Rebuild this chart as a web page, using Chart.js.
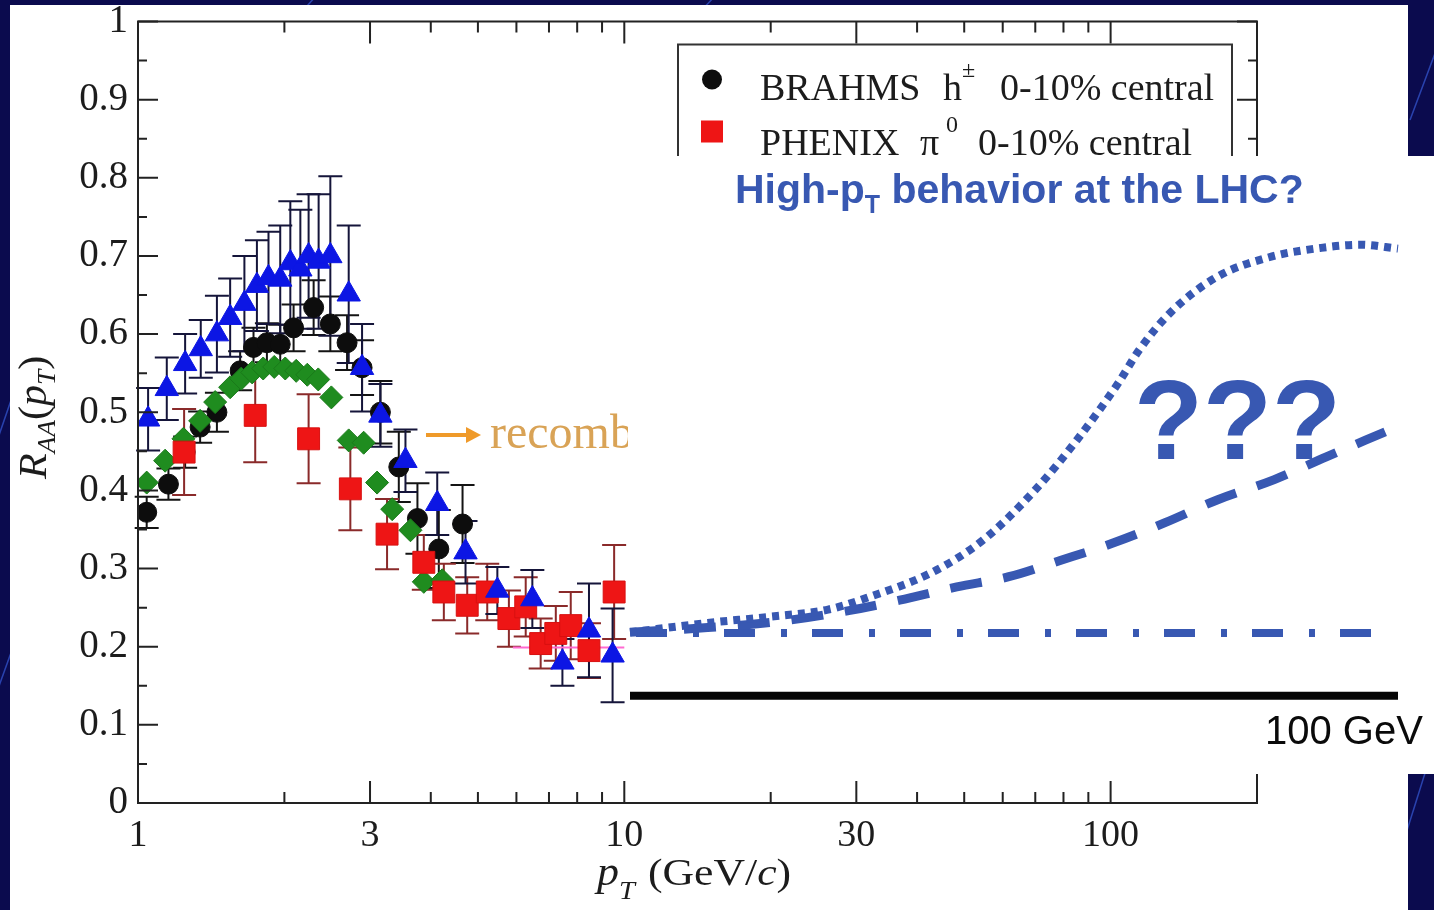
<!DOCTYPE html>
<html lang="en">
<head>
<meta charset="utf-8">
<title>R_AA(pT)</title>
<script src="https://cdn.jsdelivr.net/npm/chart.js@4.4.1/dist/chart.umd.min.js"></script>
<style>
  html, body { margin: 0; padding: 0; }
  body { position: relative; width: 1434px; height: 910px; overflow: hidden; background: #0b0b4e; }
  #deco { position: absolute; left: 0; top: 0; }
  #plotBox { position: absolute; left: 10px; top: 5px; width: 1398px; height: 905px; background: #fff; }
  #lhcBox { position: absolute; left: 628px; top: 156px; width: 806px; height: 618px; background: #fff; }
  canvas { display: block; }
</style>
</head>
<body>
<svg id="deco" width="1434" height="910">
  <g stroke="#2f4cc0" stroke-width="1.5" fill="none" opacity="0.85">
    <line x1="-4" y1="444" x2="40" y2="316"/>
    <line x1="-6" y1="700" x2="30" y2="600"/>
    <line x1="300" y1="14" x2="330" y2="-20"/>
    <line x1="700" y1="12" x2="730" y2="-20"/>
    <line x1="1404" y1="840" x2="1426" y2="770"/>
    <line x1="1410" y1="120" x2="1440" y2="40"/>
  </g>
</svg>
<div id="plotBox"><canvas id="raa" width="1398" height="905"></canvas></div>
<div id="lhcBox"><canvas id="lhc" width="806" height="618"></canvas></div>
<script>
// axis ticks
const xTicks = [1, 3, 10, 30, 100];
const xMinorTicks = [2, 4, 5, 6, 7, 8, 9, 20, 40, 50, 60, 70, 80, 90];
const yTicks = [0, 0.1, 0.2, 0.3, 0.4, 0.5, 0.6, 0.7, 0.8, 0.9, 1];
const yTickLabels = ['0', '0.1', '0.2', '0.3', '0.4', '0.5', '0.6', '0.7', '0.8', '0.9', '1'];
const yMinorTicks = [0.05, 0.15, 0.25, 0.35, 0.45, 0.55, 0.65, 0.75, 0.85, 0.95];

// BRAHMS h+- 0-10% central
const brahmsX = [1.042, 1.155, 1.250, 1.342, 1.453, 1.622, 1.728, 1.841, 1.961, 2.089, 2.297, 2.486, 2.691, 2.889, 3.151, 3.438, 3.755, 4.155, 4.649];
const brahmsY = [0.372, 0.408, 0.449, 0.481, 0.500, 0.553, 0.583, 0.589, 0.587, 0.608, 0.634, 0.613, 0.589, 0.557, 0.500, 0.430, 0.364, 0.325, 0.357];
const brahmsErr = [0.02, 0.02, 0.02, 0.02, 0.025, 0.025, 0.025, 0.025, 0.025, 0.03, 0.035, 0.035, 0.035, 0.035, 0.04, 0.045, 0.045, 0.05, 0.05];

// PHENIX pi0 0-10% central
const phenixX = [1.244, 1.742, 2.243, 2.733, 3.252, 3.870, 4.255, 4.753, 5.226, 5.79, 6.27, 6.73, 7.23, 7.76, 8.46, 9.53];
const phenixY = [0.449, 0.496, 0.466, 0.402, 0.344, 0.308, 0.270, 0.253, 0.270, 0.236, 0.251, 0.204, 0.217, 0.227, 0.195, 0.270];
const phenixErr = [0.055, 0.06, 0.057, 0.053, 0.045, 0.035, 0.036, 0.036, 0.036, 0.036, 0.038, 0.032, 0.035, 0.043, 0.035, 0.06];

// diamond series
const diamondX = [1.042, 1.137, 1.240, 1.342, 1.441, 1.547, 1.630, 1.717, 1.809, 1.906, 2.008, 2.115, 2.229, 2.348, 2.498, 2.712, 2.911, 3.102, 3.332, 3.633, 3.870, 4.223];
const diamondY = [0.410, 0.438, 0.466, 0.489, 0.513, 0.532, 0.543, 0.551, 0.556, 0.558, 0.556, 0.553, 0.548, 0.542, 0.519, 0.464, 0.461, 0.410, 0.376, 0.349, 0.283, 0.285];

// triangle series
const triangleX = [1.049, 1.146, 1.250, 1.346, 1.453, 1.547, 1.655, 1.756, 1.855, 1.961, 2.057, 2.157, 2.243, 2.352, 2.486, 2.712, 2.889, 3.151, 3.548, 4.124, 4.715, 5.482, 6.47, 7.46, 8.46, 9.46];
const triangleY = [0.491, 0.530, 0.562, 0.581, 0.600, 0.621, 0.639, 0.662, 0.672, 0.670, 0.691, 0.683, 0.700, 0.693, 0.700, 0.651, 0.557, 0.496, 0.438, 0.383, 0.321, 0.272, 0.261, 0.180, 0.221, 0.189];
const triangleErr = [0.04, 0.04, 0.038, 0.037, 0.049, 0.05, 0.061, 0.058, 0.059, 0.069, 0.079, 0.076, 0.079, 0.086, 0.102, 0.088, 0.056, 0.04, 0.04, 0.04, 0.04, 0.03, 0.037, 0.03, 0.06, 0.06];

// short magenta band near 0.2
const bandX = [5.9, 10];
const bandY = [0.199, 0.199];

// LHC scenarios (pT in GeV)
const dottedX = [10, 19.1, 26.5, 33.2, 38.0, 45.3, 51.4, 57.5, 62.4, 67.2, 69.7, 73.3, 78.8, 84.9, 91.0, 95.6, 100];
const dottedY = [0.218, 0.230, 0.238, 0.247, 0.263, 0.294, 0.336, 0.400, 0.464, 0.536, 0.579, 0.626, 0.672, 0.697, 0.709, 0.713, 0.708];
const dashedX = [10, 19.1, 27.6, 35.8, 41.6, 48.3, 54.4, 60.5, 66.6, 72.7, 78.8, 85.5, 91.6, 98.5];
const dashedY = [0.218, 0.224, 0.232, 0.246, 0.259, 0.276, 0.289, 0.310, 0.332, 0.358, 0.387, 0.413, 0.442, 0.474];
const flatX = [10, 97.9];
const flatY = [0.217, 0.217];
const baseX = [10, 100];
const baseY = [0.137, 0.137];

const serif = '"Liberation Serif", "Times New Roman", serif';
const sans = '"Liberation Sans", Arial, sans-serif';
const ink = '#1c1c1c';
const lhcBlue = '#3858b2';

const points = (xs, ys) => xs.map((x, i) => ({ x: x, y: ys[i] }));

// draw a row of text pieces, each [text, font, dy]; sx stretches horizontally
function drawRuns(ctx, x, y, runs, sx) {
  sx = sx || 1;
  ctx.save();
  ctx.translate(x, y);
  ctx.scale(sx, 1);
  let cx = 0;
  for (const [text, font, dy] of runs) {
    ctx.font = font;
    ctx.fillText(text, cx, dy || 0);
    cx += ctx.measureText(text).width;
  }
  ctx.restore();
}

const errorBars = {
  id: 'errorBars',
  beforeDatasetsDraw(chart) {
    const { ctx, scales: { x, y } } = chart;
    ctx.save();
    ctx.lineWidth = 2;
    chart.data.datasets.forEach(ds => {
      if (!ds.errors) return;
      ctx.strokeStyle = ds.errorColor;
      ds.data.forEach((p, i) => {
        const e = ds.errors[i];
        const px = x.getPixelForValue(p.x);
        const top = y.getPixelForValue(p.y + e);
        const bot = y.getPixelForValue(p.y - e);
        ctx.beginPath();
        ctx.moveTo(px, top); ctx.lineTo(px, bot);
        ctx.moveTo(px - 12, top); ctx.lineTo(px + 12, top);
        ctx.moveTo(px - 12, bot); ctx.lineTo(px + 12, bot);
        ctx.stroke();
      });
    });
    ctx.restore();
  }
};

// box, inward ticks on all four sides, legend, axis titles, note
const decorations = {
  id: 'decorations',
  afterDatasetsDraw(chart) {
    const { ctx, chartArea: a, scales: { x, y } } = chart;
    ctx.save();
    ctx.strokeStyle = '#222';
    ctx.lineWidth = 2;
    ctx.strokeRect(a.left, a.top, a.right - a.left, a.bottom - a.top);
    ctx.beginPath();
    const xMark = (v, len) => {
      const px = x.getPixelForValue(v);
      ctx.moveTo(px, a.bottom); ctx.lineTo(px, a.bottom - len);
      ctx.moveTo(px, a.top); ctx.lineTo(px, a.top + len);
    };
    const yMark = (v, len) => {
      const py = y.getPixelForValue(v);
      ctx.moveTo(a.left, py); ctx.lineTo(a.left + len, py);
      ctx.moveTo(a.right, py); ctx.lineTo(a.right - len, py);
    };
    xTicks.forEach(v => xMark(v, 22));
    xMinorTicks.forEach(v => xMark(v, 11));
    yTicks.forEach(v => yMark(v, 20));
    yMinorTicks.forEach(v => yMark(v, 9));
    ctx.stroke();

    // legend
    const lx = a.left + 540, ly = a.top + 23;
    ctx.fillStyle = '#fff';
    ctx.fillRect(lx, ly, 554, 200);
    ctx.strokeStyle = '#333';
    ctx.strokeRect(lx, ly, 554, 200);
    ctx.fillStyle = '#0d0d0d';
    ctx.beginPath();
    ctx.arc(lx + 34, ly + 35, 10, 0, Math.PI * 2);
    ctx.fill();
    ctx.fillStyle = '#ee1515';
    ctx.fillRect(lx + 23, ly + 76, 22, 22);
    ctx.fillStyle = ink;
    ctx.textBaseline = 'alphabetic';
    const f = '38px ' + serif, fs = '24px ' + serif;
    ctx.font = f;
    ctx.fillText('BRAHMS', lx + 82, ly + 55);
    ctx.fillText('h', lx + 265, ly + 55);
    ctx.font = fs;
    ctx.fillText('\u00b1', lx + 284, ly + 32);
    ctx.font = f;
    ctx.fillText('0-10% central', lx + 322, ly + 55);
    ctx.fillText('PHENIX', lx + 82, ly + 110);
    ctx.fillText('\u03c0', lx + 242, ly + 110);
    ctx.font = fs;
    ctx.fillText('0', lx + 268, ly + 87);
    ctx.font = f;
    ctx.fillText('0-10% central', lx + 300, ly + 110);

    // x axis title
    ctx.fillStyle = ink;
    drawRuns(ctx, 587, 880, [['p', 'italic 40px ' + serif, 0], ['T', 'italic 26px ' + serif, 14]], 1.1);
    drawRuns(ctx, 638, 880, [['(GeV/', '38px ' + serif, 0], ['c', 'italic 38px ' + serif, 0], [')', '38px ' + serif, 0]], 1.15);

    // y axis title, reading upwards
    ctx.save();
    ctx.translate(36, 474);
    ctx.rotate(-Math.PI / 2);
    drawRuns(ctx, 0, 0, [
      ['R', 'italic 40px ' + serif, 0],
      ['AA', 'italic 26px ' + serif, 9],
      ['(', '40px ' + serif, 0],
      ['p', 'italic 40px ' + serif, 0],
      ['T', 'italic 26px ' + serif, 9],
      [')', '40px ' + serif, 0]
    ], 1.05);
    ctx.restore();

    // recombination note
    ctx.strokeStyle = '#ef9a2a';
    ctx.fillStyle = '#ef9a2a';
    ctx.lineWidth = 4;
    ctx.beginPath();
    ctx.moveTo(416, 430); ctx.lineTo(460, 430);
    ctx.stroke();
    ctx.beginPath();
    ctx.moveTo(471, 430); ctx.lineTo(456, 422); ctx.lineTo(456, 438);
    ctx.closePath();
    ctx.fill();
    ctx.fillStyle = '#d9a356';
    ctx.font = '48px ' + serif;
    ctx.fillText('recombination', 480, 443);
    ctx.restore();
  }
};

new Chart(document.getElementById('raa'), {
  type: 'scatter',
  data: {
    datasets: [
      {
        label: 'BRAHMS h\u00b1 0-10% central',
        data: points(brahmsX, brahmsY),
        errors: brahmsErr, errorColor: '#141414',
        pointStyle: 'circle', pointRadius: 10,
        backgroundColor: '#0d0d0d', borderColor: '#0d0d0d', borderWidth: 1,
        order: 3
      },
      {
        label: 'PHENIX \u03c00 0-10% central',
        data: points(phenixX, phenixY),
        errors: phenixErr, errorColor: '#8a2a2a',
        pointStyle: 'rect', pointRadius: 15.5,
        backgroundColor: '#ee1515', borderColor: '#d81010', borderWidth: 1,
        order: 1
      },
      {
        label: 'diamonds',
        data: points(diamondX, diamondY),
        pointStyle: 'rectRot', pointRadius: 11.5,
        backgroundColor: '#1f8c1f', borderColor: '#1a7a1a', borderWidth: 1,
        order: 2
      },
      {
        label: 'triangles',
        data: points(triangleX, triangleY),
        errors: triangleErr, errorColor: '#15153a',
        pointStyle: 'triangle', pointRadius: 13.5,
        backgroundColor: '#0c16e4', borderColor: '#0c16e4', borderWidth: 1,
        order: 0
      },
      {
        label: 'band',
        data: points(bandX, bandY),
        showLine: true, pointRadius: 0,
        borderColor: '#ff6ad2', borderWidth: 2,
        order: 4
      }
    ]
  },
  options: {
    responsive: false,
    animation: false,
    events: [],
    layout: { padding: { top: 15, right: 151, left: 0, bottom: 0 } },
    plugins: { legend: { display: false }, tooltip: { enabled: false } },
    scales: {
      x: {
        type: 'logarithmic', min: 1, max: 200,
        grid: { display: false },
        border: { display: false },
        ticks: {
          color: ink, padding: 2, maxRotation: 0, autoSkip: false,
          font: { family: serif, size: 38 },
          callback: v => String(v)
        },
        afterBuildTicks: s => { s.ticks = xTicks.map(v => ({ value: v })); },
        afterFit: s => { s.height = 107; s.paddingLeft = 0; s.paddingRight = 0; }
      },
      y: {
        min: 0, max: 1,
        grid: { display: false },
        border: { display: false },
        ticks: {
          color: ink, padding: 2,
          font: { family: serif, size: 39 },
          callback: (v, i) => yTickLabels[i]
        },
        afterBuildTicks: s => { s.ticks = yTicks.map(v => ({ value: v })); },
        afterFit: s => { s.width = 128; s.paddingTop = 0; s.paddingBottom = 0; }
      }
    }
  },
  plugins: [errorBars, decorations]
});

const lhcText = {
  id: 'lhcText',
  afterDatasetsDraw(chart) {
    const ctx = chart.ctx;
    ctx.save();
    ctx.textBaseline = 'alphabetic';
    ctx.fillStyle = lhcBlue;
    drawRuns(ctx, 107, 47, [
      ['High-p', 'bold 41px ' + sans, 0],
      ['T', 'bold 25px ' + sans, 10],
      [' behavior at the LHC?', 'bold 41px ' + sans, 0]
    ]);
    ctx.font = 'bold 113px ' + sans;
    ctx.fillText('???', 506, 303);
    ctx.fillStyle = '#0a0a0a';
    ctx.font = '40px ' + sans;
    ctx.fillText('100 GeV', 637, 588);
    ctx.restore();
  }
};

new Chart(document.getElementById('lhc'), {
  type: 'scatter',
  data: {
    datasets: [
      {
        label: 'dotted',
        data: points(dottedX, dottedY),
        showLine: true, pointRadius: 0, cubicInterpolationMode: 'monotone',
        borderColor: lhcBlue, borderWidth: 8, borderDash: [7, 6]
      },
      {
        label: 'dashed',
        data: points(dashedX, dashedY),
        showLine: true, pointRadius: 0, cubicInterpolationMode: 'monotone',
        borderColor: lhcBlue, borderWidth: 9, borderDash: [32, 22]
      },
      {
        label: 'dash-dot',
        data: points(flatX, flatY),
        showLine: true, pointRadius: 0,
        borderColor: lhcBlue, borderWidth: 8, borderDash: [31, 26, 6, 25], borderDashOffset: -6
      },
      {
        label: 'baseline',
        data: points(baseX, baseY),
        showLine: true, pointRadius: 0,
        borderColor: '#050505', borderWidth: 8
      }
    ]
  },
  options: {
    responsive: false,
    animation: false,
    events: [],
    layout: { padding: 0 },
    plugins: { legend: { display: false }, tooltip: { enabled: false } },
    scales: {
      x: { type: 'linear', display: false, min: 9.7656, max: 104.219 },
      y: { display: false, min: 0.03704, max: 0.82631 }
    }
  },
  plugins: [lhcText]
});
</script>
</body>
</html>
